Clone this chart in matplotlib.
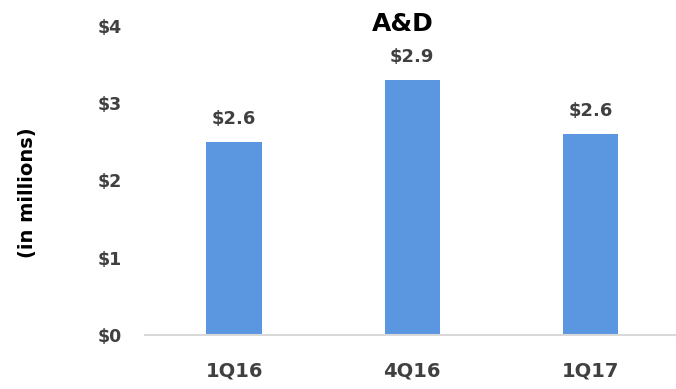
import matplotlib.pyplot as plt
import numpy as np

# Datos del gráfico
trimestres = ['1Q16', '4Q16', '1Q17']
valores = [2.5, 3.3, 2.6]          # altura de las barras
etiquetas = ['$2.6', '$2.9', '$2.6']
ticks_y = [0, 1, 2, 3, 4]
ticks_y_txt = ['$0', '$1', '$2', '$3', '$4']

plt.rcParams['font.family'] = ['DejaVu Sans']
gris = '#404040'

fig = plt.figure(figsize=(6.76, 3.89), dpi=100)
ax = fig.add_axes([0.2145, 0.1388, 0.7855, 0.7944])

x = np.arange(len(trimestres))
barras = ax.bar(x, valores, width=0.31, color='#5b97e0', zorder=2)

# Etiquetas encima de cada barra
for b, txt in zip(barras, etiquetas):
    ax.annotate(txt, (b.get_x() + b.get_width() / 2, b.get_height()),
                xytext=(0, 16.5), textcoords='offset points',
                ha='center', va='center', fontsize=13, fontweight='bold', color=gris)

ax.set_xlim(-0.5, 2.48)
ax.set_ylim(0, 4)
ax.set_xticks(x)
ax.set_xticklabels(trimestres, fontsize=14, fontweight='bold', color=gris)
ax.set_yticks(ticks_y)
ax.set_yticklabels(ticks_y_txt, fontsize=12.5, fontweight='bold', color=gris)
ax.tick_params(axis='both', length=0)
ax.tick_params(axis='y', pad=16.5)
ax.tick_params(axis='x', pad=19)

for s in ['top', 'right', 'left']:
    ax.spines[s].set_visible(False)
ax.spines['bottom'].set_color('#d9d9d9')
ax.spines['bottom'].set_linewidth(1.5)

fig.text(403 / 676, 1 - 24 / 389, 'A&D', ha='center', va='center',
         fontsize=18, fontweight='bold', color='black')
fig.text(27 / 676, 1 - 193 / 389, '(in millions)', rotation=90, ha='center', va='center',
         fontsize=14, fontweight='bold', color='black')

fig.savefig('out.png', dpi=100)
